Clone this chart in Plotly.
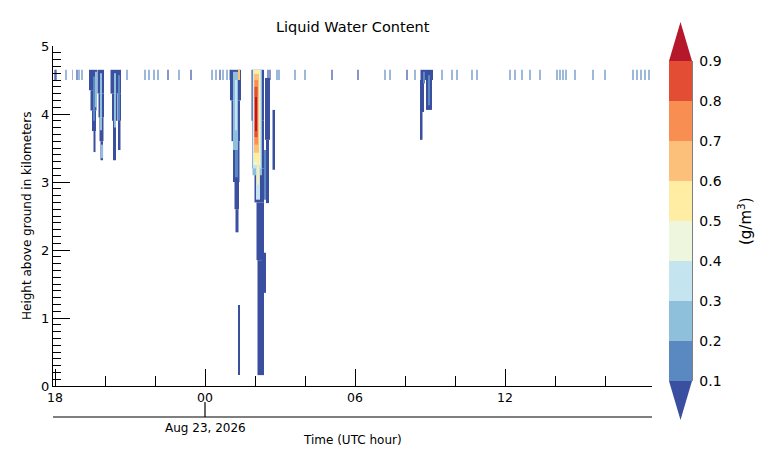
import plotly.graph_objects as go

# ---------------- data ----------------
# time: hours since 18 UTC (Aug 22, 2026); heights: km above ground; LWC: g/m^3
ceil_times = [0.00, 0.04, 0.44, 0.71, 0.88, 0.96, 1.08, 2.88, 3.60, 3.76, 3.96, 4.12,
              4.52, 4.96, 5.44, 6.28, 6.44, 6.60, 6.72, 6.88, 7.00, 8.52, 8.60, 8.88,
              8.96, 9.60, 10.00, 11.08, 12.12, 13.20, 13.40, 14.08, 14.40, 15.48, 15.88,
              16.08, 16.68, 16.88, 18.20, 18.40, 18.68, 19.00, 19.40, 20.08, 20.20, 20.32,
              20.44, 20.80, 21.52, 22.00, 23.12, 23.28, 23.44, 23.60, 23.76]
ceil_lwc = [0.05, 0.05, 0.15, 0.15, 0.05, 0.15, 0.15, 0.15, 0.15, 0.15, 0.15, 0.15,
            0.05, 0.15, 0.05, 0.15, 0.15, 0.05, 0.15, 0.15, 0.15, 0.05, 0.05, 0.15,
            0.15, 0.15, 0.15, 0.05, 0.05, 0.15, 0.15, 0.05, 0.15, 0.15, 0.15,
            0.15, 0.15, 0.15, 0.15, 0.15, 0.15, 0.15, 0.15, 0.15, 0.15, 0.15,
            0.15, 0.15, 0.15, 0.15, 0.15, 0.15, 0.15, 0.15, 0.15]
ceil_bottom = 4.50
ceil_top = 4.65
ceil_duration = 0.02

# cloud streaks: centre time, duration, bottom, top, LWC
streak_time = [
    # cloud near 19:30
    1.52, 1.54, 1.56, 1.58, 1.83, 1.85, 1.86, 1.87, 1.64, 1.56, 1.84, 1.90,
    # cloud near 20:25
    2.43, 2.38, 2.57, 2.38, 2.57, 2.40, 2.55,
    # cloud near 01:15
    7.22, 7.23, 7.25, 7.27, 7.28, 7.36, 7.22, 7.24, 7.26, 7.36,
    # cloud near 02:10
    8.11, 8.13, 8.17, 8.21, 8.23, 8.50, 8.50, 8.75, 8.36, 8.39,
    8.09, 8.12, 8.08, 8.07, 8.07, 8.12, 8.06, 8.05, 8.04, 8.04,
    # cloud near 08:50
    14.87, 14.68, 14.65, 14.96, 14.96, 14.76]
streak_width = [
    0.32, 0.24, 0.16, 0.08, 0.26, 0.22, 0.16, 0.10, 0.08, 0.08, 0.08, 0.05,
    0.42, 0.20, 0.14, 0.12, 0.10, 0.08, 0.06,
    0.44, 0.34, 0.26, 0.18, 0.12, 0.08, 0.20, 0.08, 0.12, 0.06,
    0.50, 0.46, 0.38, 0.30, 0.26, 0.20, 0.12, 0.10, 0.16, 0.06,
    0.38, 0.16, 0.32, 0.26, 0.22, 0.08, 0.20, 0.14, 0.12, 0.08,
    0.50, 0.16, 0.10, 0.24, 0.08, 0.08]
streak_bottom = [
    4.35, 4.05, 3.75, 3.44, 4.30, 3.95, 3.60, 3.32, 4.10, 3.90, 3.76, 3.35,
    4.30, 3.90, 3.90, 3.32, 3.47, 3.80, 3.91,
    4.20, 3.60, 3.00, 2.60, 2.26, 0.16, 3.47, 3.76, 3.07, 4.50,
    3.90, 3.20, 2.70, 1.85, 0.16, 3.62, 2.69, 3.18, 1.37, 2.74,
    3.10, 2.74, 3.20, 3.25, 3.30, 2.96, 3.43, 3.55, 3.66, 3.75,
    4.50, 4.03, 3.62, 4.06, 4.13, 4.45]
streak_top = [
    4.65, 4.35, 4.05, 3.75, 4.65, 4.30, 3.95, 3.60, 4.62, 4.55, 4.60, 3.55,
    4.65, 4.30, 4.30, 3.90, 3.90, 4.60, 4.57,
    4.65, 4.20, 3.60, 3.00, 2.60, 1.19, 4.62, 4.50, 3.47, 4.65,
    4.65, 3.90, 3.20, 2.70, 1.85, 4.53, 3.62, 4.06, 1.96, 3.47,
    4.65, 3.62, 4.65, 4.65, 4.65, 3.76, 4.59, 4.50, 4.40, 4.25,
    4.65, 4.50, 4.03, 4.50, 4.57, 4.62]
streak_lwc = [
    0.05, 0.05, 0.05, 0.05, 0.05, 0.05, 0.05, 0.05, 0.25, 0.15, 0.22, 0.25,
    0.05, 0.05, 0.05, 0.05, 0.05, 0.25, 0.15,
    0.05, 0.05, 0.05, 0.05, 0.05, 0.05, 0.25, 0.35, 0.15, 0.65,
    0.05, 0.05, 0.05, 0.05, 0.05, 0.05, 0.05, 0.05, 0.05, 0.15,
    0.25, 0.35, 0.35, 0.45, 0.55, 0.55, 0.65, 0.75, 0.85, 0.95,
    0.05, 0.05, 0.05, 0.05, 0.15, 0.15]

level_bounds = [0.1, 0.2, 0.3, 0.4, 0.5, 0.6, 0.7, 0.8, 0.9]
under_color = "#3b4fa1"
over_color = "#b5172b"
band_colors = ["#5a88c1", "#8ec0dc", "#c4e4ef", "#eef7dd",
               "#feeda2", "#fdc07b", "#f88e52", "#e34d33"]

x_tick_vals = [0, 6, 12, 18]
x_tick_text = ["18", "00", "06", "12"]
date_label = "Aug 23, 2026"
date_tick = 6

# ---------------- figure ----------------
W, H = 773, 467
L, R, T, B = 53, 121, 46, 81
PW, PH = W - L - R, H - T - B


def px_x(px):
    return (px - L) / PW


def px_y(py):
    return (H - B - py) / PH


all_colors = [under_color] + band_colors + [over_color]
full_scale = []
for i, c in enumerate(all_colors):
    full_scale.append([i / len(all_colors), c])
    full_scale.append([(i + 1) / len(all_colors), c])

cb_scale = []
for i, c in enumerate(band_colors):
    cb_scale.append([i / len(band_colors), c])
    cb_scale.append([(i + 1) / len(band_colors), c])

bx = ceil_times + streak_time
bw = [ceil_duration] * len(ceil_times) + streak_width
bbase = [ceil_bottom] * len(ceil_times) + streak_bottom
bh = [ceil_top - ceil_bottom] * len(ceil_times) + [t - b for t, b in zip(streak_top, streak_bottom)]
bc = ceil_lwc + streak_lwc
bop = [0.6] * len(ceil_times) + [1.0] * len(streak_time)

fig = go.Figure()
fig.add_trace(go.Bar(
    x=bx, y=bh, base=bbase, width=bw,
    marker=dict(color=bc, colorscale=full_scale, cmin=0.0, cmax=1.0, opacity=bop,
                line=dict(width=0), showscale=False),
    hoverinfo="skip",
))
fig.add_trace(go.Scatter(
    x=[None], y=[None], mode="markers", hoverinfo="skip",
    marker=dict(color=[0.5], colorscale=cb_scale, cmin=0.1, cmax=0.9, showscale=True,
                colorbar=dict(thickness=23, thicknessmode="pixels", len=320, lenmode="pixels",
                              x=px_x(669), xanchor="left", xpad=0,
                              y=px_y(221), yanchor="middle", ypad=0,
                              outlinewidth=0, tickvals=level_bounds,
                              ticktext=[f"{v:.1f}" for v in level_bounds],
                              ticks="outside", ticklen=5, tickcolor="rgba(0,0,0,0)",
                              tickfont=dict(size=14, color="black"))),
))

axis_common = dict(showline=True, linecolor="black", linewidth=1.2, showgrid=False,
                   zeroline=False, ticks="inside", tickcolor="black", tickwidth=1.2,
                   ticklen=17)

fig.update_layout(
    width=W, height=H,
    margin=dict(l=L, r=R, t=T, b=B, pad=0),
    paper_bgcolor="white", plot_bgcolor="white",
    barmode="overlay", showlegend=False,
    font=dict(family="DejaVu Sans", color="black"),
    xaxis=dict(range=[-0.08, 23.88], tickmode="array", tickvals=x_tick_vals,
               ticktext=x_tick_text, tickfont=dict(size=12.5, color="black"),
               minor=dict(tick0=0, dtick=2, ticks="inside", ticklen=10, tickwidth=1,
                          tickcolor="black", showgrid=False),
               **axis_common),
    yaxis=dict(range=[0, 5], tick0=0, dtick=1, tickfont=dict(size=13, color="black"),
               minor=dict(tick0=0, dtick=0.1, ticks="inside", ticklen=8, tickwidth=1,
                          tickcolor="black", showgrid=False),
               **axis_common),
)

cb_l, cb_r = px_x(669), px_x(692)
cb_c = (cb_l + cb_r) / 2
shapes = [
    dict(type="line", xref="paper", yref="paper", x0=0, x1=1, y0=px_y(417), y1=px_y(417),
         line=dict(color="black", width=1.2)),
    dict(type="line", xref="x", yref="paper", x0=date_tick, x1=date_tick,
         y0=px_y(402), y1=px_y(417), line=dict(color="black", width=1.2)),
    dict(type="path", xref="paper", yref="paper",
         path=f"M {cb_l},{px_y(61)} L {cb_r},{px_y(61)} L {cb_c},{px_y(22)} Z",
         fillcolor=over_color, line=dict(width=0)),
    dict(type="path", xref="paper", yref="paper",
         path=f"M {cb_l},{px_y(381)} L {cb_r},{px_y(381)} L {cb_c},{px_y(420)} Z",
         fillcolor=under_color, line=dict(width=0)),
    dict(type="line", xref="paper", yref="paper", x0=cb_r, x1=cb_r,
         y0=px_y(381), y1=px_y(61), line=dict(color="black", width=1)),
]
fig.update_layout(shapes=shapes)

annotations = [
    dict(text="Liquid Water Content", xref="paper", yref="paper", x=0.5, y=px_y(27),
         showarrow=False, font=dict(size=14.5), xanchor="center", yanchor="middle"),
    dict(text="Height above ground in kilometers", xref="paper", yref="paper",
         x=px_x(27), y=0.5, textangle=-90, showarrow=False, font=dict(size=12),
         xanchor="center", yanchor="middle"),
    dict(text=date_label, xref="x", yref="paper", x=date_tick, y=px_y(419),
         showarrow=False, font=dict(size=12), xanchor="center", yanchor="top"),
    dict(text="Time (UTC hour)", xref="paper", yref="paper", x=0.5, y=px_y(440),
         showarrow=False, font=dict(size=12), xanchor="center", yanchor="middle"),
    dict(text="(g/m<sup>3</sup>)", xref="paper", yref="paper", x=px_x(745), y=px_y(221),
         textangle=-90, showarrow=False, font=dict(size=15), xanchor="center",
         yanchor="middle"),
]
fig.update_layout(annotations=annotations)

fig.write_html("out.html", config={"displayModeBar": False},
               post_script="document.body.style.margin='0';")
